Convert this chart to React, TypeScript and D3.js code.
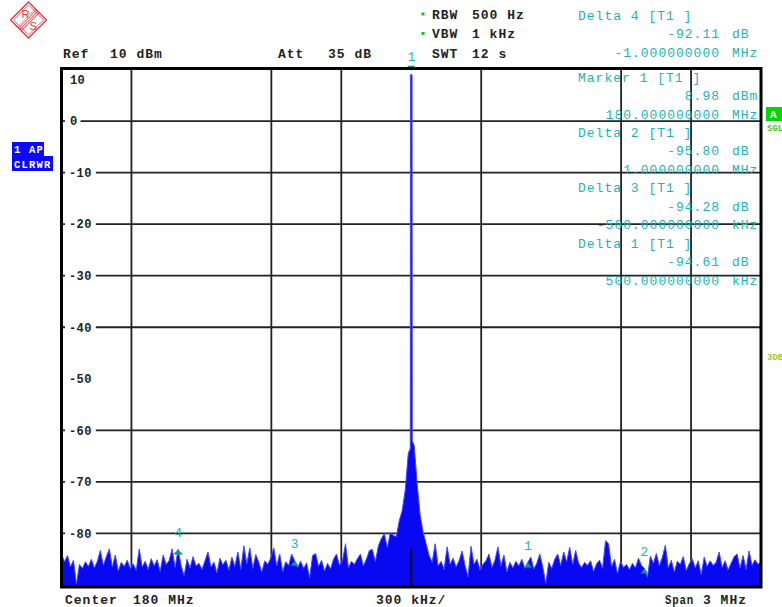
import React from 'react'
import * as d3 from 'd3'

const W = 782
const H = 607

// sweep settings
const startMHz = 178.5
const stopMHz = 181.5
const centerMHz = 180
const topLevel = 10
const bottomLevel = -90

// trace levels in dBm, one sample every ~12.8 kHz across the span
const traceLevels = [
  -84.0, -85.5, -84.3, -86.5, -85.2, -89.8, -86.0, -86.8, -85.5, -86.4,
  -85.0, -86.7, -85.4, -83.3, -86.2, -84.5, -83.0, -86.5, -84.2, -87.3,
  -85.6, -86.4, -85.2, -86.8, -85.9, -87.2, -83.0, -86.5, -85.4, -87.0,
  -84.9, -86.3, -85.1, -87.4, -84.2, -86.0, -85.3, -83.0, -86.6, -83.1,
  -86.2, -88.2, -85.0, -86.7, -84.5, -86.3, -85.8, -87.0, -85.3, -83.6,
  -86.5, -85.6, -87.6, -84.8, -86.1, -85.2, -87.1, -84.6, -86.4, -83.6,
  -87.0, -82.4, -85.9, -82.8, -86.8, -84.1, -85.6, -87.5, -85.3, -86.0,
  -84.8, -82.8, -86.3, -84.0, -87.4, -85.5, -86.2, -84.0, -85.3, -86.6,
  -85.4, -86.8, -85.7, -88.6, -84.3, -83.9, -86.4, -85.2, -87.3, -85.8,
  -86.9, -85.0, -84.0, -86.2, -85.3, -82.0, -86.7, -85.4, -86.0, -84.9,
  -84.0, -86.3, -85.0, -83.3, -83.1, -85.5, -82.4, -81.0, -80.0, -82.8,
  -79.8, -80.4, -80.6, -77.5, -75.5, -71.5, -64.5, 8.98, -63.0, -70.5,
  -76.5, -79.8, -82.0, -84.3, -85.6, -82.0, -86.3, -85.4, -87.0, -82.6,
  -86.0, -84.8, -86.5, -85.3, -83.4, -86.2, -88.4, -82.5, -86.0, -85.0,
  -87.1, -86.0, -85.3, -84.0, -86.6, -85.2, -82.6, -86.3, -84.2, -87.5,
  -85.6, -86.7, -85.4, -86.3, -85.0, -86.8, -85.6, -84.6, -86.9, -85.8,
  -84.0, -86.5, -89.7, -85.6, -86.8, -85.0, -84.0, -86.2, -83.6, -85.5,
  -82.7, -86.0, -83.3, -85.8, -86.6, -85.6, -86.2, -85.3, -87.4, -85.9,
  -85.2, -86.8, -81.4, -82.0, -86.5, -85.0, -87.8, -85.4, -86.6, -86.0,
  -87.0, -85.8, -86.7, -84.8, -86.2, -86.8, -88.5, -84.4, -85.8, -83.9,
  -86.3, -84.6, -82.3, -86.7, -85.2, -87.5, -85.4, -86.0, -84.5, -87.2,
  -85.9, -84.9, -86.7, -85.3, -88.0, -84.6, -86.4, -85.3, -86.2, -85.6,
  -83.6, -86.6, -85.3, -87.1, -85.8, -84.5, -84.0, -86.7, -84.3, -87.0,
  -83.4, -86.2, -85.1, -86.0, -85.5
]

const yTickLabels = [10, 0, -10, -20, -30, -40, -50, -60, -70, -80]
const yGridLevels = [0, -10, -20, -30, -40, -60, -70, -80]
const xGridMHz = [178.8, 179.4, 179.7, 180.3, 180.9, 181.2]

const markerLevel = 8.98
const deltaMarkers = [
  { id: '4', offsetMHz: -1.0, delta: -92.11 },
  { id: '2', offsetMHz: 1.0, delta: -95.8 },
  { id: '3', offsetMHz: -0.5, delta: -94.28 },
  { id: '1', offsetMHz: 0.5, delta: -94.61 }
]

const readouts = [
  { title: 'Delta 4 [T1 ]', value: '-92.11', unit: 'dB', freq: '-1.000000000', fUnit: 'MHz' },
  { title: 'Marker 1 [T1 ]', value: '8.98', unit: 'dBm', freq: '180.000000000', fUnit: 'MHz' },
  { title: 'Delta 2 [T1 ]', value: '-95.80', unit: 'dB', freq: '1.000000000', fUnit: 'MHz' },
  { title: 'Delta 3 [T1 ]', value: '-94.28', unit: 'dB', freq: '-500.000000000', fUnit: 'kHz' },
  { title: 'Delta 1 [T1 ]', value: '-94.61', unit: 'dB', freq: '500.000000000', fUnit: 'kHz' }
]

const settingsLeft = [
  { label: 'Ref', value: '10 dBm', x: 63, vx: 110 },
  { label: 'Att', value: '35 dB', x: 278, vx: 328 }
]
const settingsRight = [
  { label: 'RBW', value: '500 Hz', dot: true },
  { label: 'VBW', value: '1 kHz', dot: true },
  { label: 'SWT', value: '12 s', dot: false }
]

const mono = '"Liberation Mono", "DejaVu Sans Mono", monospace'
const teal = '#1cb3b3'
const tealDark = '#0e9494'
const traceBlue = '#0808f2'

export default function App() {
  const x = d3.scaleLinear().domain([startMHz, stopMHz]).range([61.5, 761])
  const y = d3.scaleLinear().domain([bottomLevel, topLevel]).range([585, 69.5])
  const step = (stopMHz - startMHz) / (traceLevels.length - 1)
  const fAt = (i: number) => startMHz + i * step

  // the carrier sample is drawn as a narrow needle instead of a wide triangle
  const peakIdx = d3.maxIndex(traceLevels)
  const pts: [number, number][] = []
  traceLevels.forEach((v, i) => {
    const px = x(fAt(i))
    if (i === peakIdx) {
      pts.push([px - 1, y(traceLevels[i - 1] + 1)], [px - 0.8, y(v)], [px + 0.8, y(v)], [px + 1, y(traceLevels[i + 1] + 1)])
    } else {
      pts.push([px, y(v)])
    }
  })

  const area = d3
    .area<[number, number]>()
    .x((d) => d[0])
    .y0(y(bottomLevel) + 4)
    .y1((d) => d[1])
  const line = d3
    .line<[number, number]>()
    .x((d) => d[0])
    .y((d) => d[1])

  const left = 61.5
  const right = 761
  const top = 68.5
  const bottom = 587

  return (
    <svg width={W} height={H} style={{ position: 'absolute', left: 0, top: 0, background: '#fff' }}>
      <defs>
        <clipPath id="plot">
          <rect x={left} y={top} width={right - left} height={bottom - top} />
        </clipPath>
        <pattern id="hatch" width="2" height="2" patternUnits="userSpaceOnUse">
          <rect width="2" height="1" fill="#e8323c" />
        </pattern>
      </defs>

      {/* logo */}
      <g transform="translate(28.5,20)">
        <path d="M0,-18L18,0L0,18L-18,0Z" fill="#fff" stroke="#e8323c" strokeWidth={1.3} />
        <path d="M0,-15L15,0L0,15L-15,0Z" fill="none" stroke="#e8323c" strokeWidth={0.8} />
        <g transform="rotate(-45)">
          <rect x={-13} y={-3.5} width={26} height={7} fill="url(#hatch)" opacity={0.8} />
        </g>
        <text x={-7} y={-2} fontSize={11} fontFamily="Liberation Sans" fill="#e8323c">R</text>
        <text x={1} y={10} fontSize={11} fontFamily="Liberation Sans" fill="#e8323c">S</text>
      </g>

      {/* grid */}
      {xGridMHz.map((f) => (
        <line key={'v' + f} x1={x(f)} x2={x(f)} y1={top} y2={bottom} stroke="#222" strokeWidth={1.8} />
      ))}
      {yGridLevels.map((l) => (
        <line key={'h' + l} x1={left} x2={right} y1={y(l)} y2={y(l)} stroke="#222" strokeWidth={1.8} />
      ))}

      {/* y labels */}
      {yTickLabels.map((l) => {
        const s = String(l)
        const w = s.length * 7.6
        const cy = l === topLevel ? y(l) + 10.5 : y(l)
        return (
          <g key={'yl' + l}>
            {l !== topLevel && <rect x={65} y={cy - 6} width={w + 8} height={12} fill="#fff" />}
            <text
              x={l === topLevel || l === 0 ? 70 : 69}
              y={cy + 4.3}
              fontFamily={mono}
              fontWeight={700}
              fontSize={12}
              letterSpacing={0.4}
              fill="#222"
            >
              {s}
            </text>
          </g>
        )
      })}

      {/* trace */}
      <g clipPath="url(#plot)">
        <path d={area(pts) ?? ''} fill={traceBlue} />
        <path d={line(pts) ?? ''} fill="none" stroke="#4848ff" strokeWidth={1} />
        <line
          x1={x(centerMHz)}
          x2={x(centerMHz)}
          y1={y(-83)}
          y2={bottom}
          stroke="#111"
          strokeWidth={2}
        />
      </g>

      {/* main marker */}
      <path
        d={`M${x(centerMHz) - 4},${y(markerLevel) - 9}L${x(centerMHz) + 4},${y(markerLevel) - 9}L${x(centerMHz)},${y(markerLevel) - 4}Z`}
        fill={tealDark}
      />
      <text
        x={x(centerMHz)}
        y={y(markerLevel) - 14}
        textAnchor="middle"
        fontFamily={mono}
        fontSize={12}
        fill={teal}
      >
        1
      </text>

      {/* delta markers */}
      {deltaMarkers.map((m) => {
        const cx = x(centerMHz + m.offsetMHz)
        const cy = y(markerLevel + m.delta)
        const big = m.id === '4'
        const hw = big ? 5 : 4
        return (
          <g key={'dm' + m.id}>
            <path d={`M${cx},${cy}L${cx + hw},${cy + 5}L${cx - hw},${cy + 5}Z`} fill={tealDark} />
            <text
              x={cx}
              y={cy - 17 + 4.5}
              textAnchor="middle"
              fontFamily={mono}
              fontSize={13}
              fill={teal}
            >
              {m.id}
            </text>
          </g>
        )
      })}

      {/* frame */}
      <rect x={left} y={top} width={right - left} height={bottom - top} fill="none" stroke="#000" strokeWidth={3} />

      {/* header */}
      {settingsLeft.map((s) => (
        <g key={s.label} fontFamily={mono} fontWeight={700} fontSize={13} letterSpacing={1} fill="#222">
          <text x={s.x} y={57.5}>{s.label}</text>
          <text x={s.vx} y={57.5}>{s.value}</text>
        </g>
      ))}
      {settingsRight.map((s, i) => {
        const cy = 14 + i * 19.5
        return (
          <g key={s.label} fontFamily={mono} fontWeight={700} fontSize={13} letterSpacing={1} fill="#222">
            {s.dot && <rect x={421.5} y={cy - 1.5} width={3} height={3} fill="#19c219" />}
            <text x={432} y={cy + 4.5}>{s.label}</text>
            <text x={472} y={cy + 4.5}>{s.value}</text>
          </g>
        )
      })}

      {/* marker readouts */}
      {readouts.map((r, k) => {
        const y0 = k === 0 ? 15 : 77 + (k - 1) * 55.4
        return (
          <g key={r.title} fontFamily={mono} fontSize={13} letterSpacing={1} fill={teal}>
            <text x={578} y={y0 + 4.5}>{r.title}</text>
            <text x={720} y={y0 + 18.5 + 4.5} textAnchor="end">{r.value}</text>
            <text x={732} y={y0 + 18.5 + 4.5}>{r.unit}</text>
            <text x={720} y={y0 + 37 + 4.5} textAnchor="end">{r.freq}</text>
            <text x={732} y={y0 + 37 + 4.5}>{r.fUnit}</text>
          </g>
        )
      })}

      {/* trace info box */}
      <rect x={12} y={142} width={32} height={15} fill="#0a0aff" />
      <rect x={12} y={156} width={41} height={15} fill="#0a0aff" />
      <g fontFamily={mono} fontWeight={700} fontSize={10.5} letterSpacing={1.2} fill="#fff">
        <text x={14} y={152.5}>1 AP</text>
        <text x={14} y={167.5}>CLRWR</text>
      </g>

      {/* right side status */}
      <rect x={766} y={107} width={16} height={14} fill="#00d800" />
      <text x={770} y={118} fontFamily={mono} fontWeight={700} fontSize={11} fill="#fff">A</text>
      <text x={767} y={131} fontFamily={mono} fontWeight={700} fontSize={9} fill="#3cc81e">SGL</text>
      <text x={767} y={360} fontFamily={mono} fontWeight={700} fontSize={9} fill="#9acd1e">3DB</text>

      {/* footer */}
      <g fontFamily={mono} fontWeight={700} fontSize={13} letterSpacing={1} fill="#222">
        <text x={65} y={603.5}>Center</text>
        <text x={133} y={603.5}>180 MHz</text>
        <text x={376} y={603.5}>300 kHz/</text>
        <text x={665} y={603.5} textLength={29} lengthAdjust="spacingAndGlyphs">Span</text>
        <text x={703} y={603.5}>3 MHz</text>
      </g>
    </svg>
  )
}
